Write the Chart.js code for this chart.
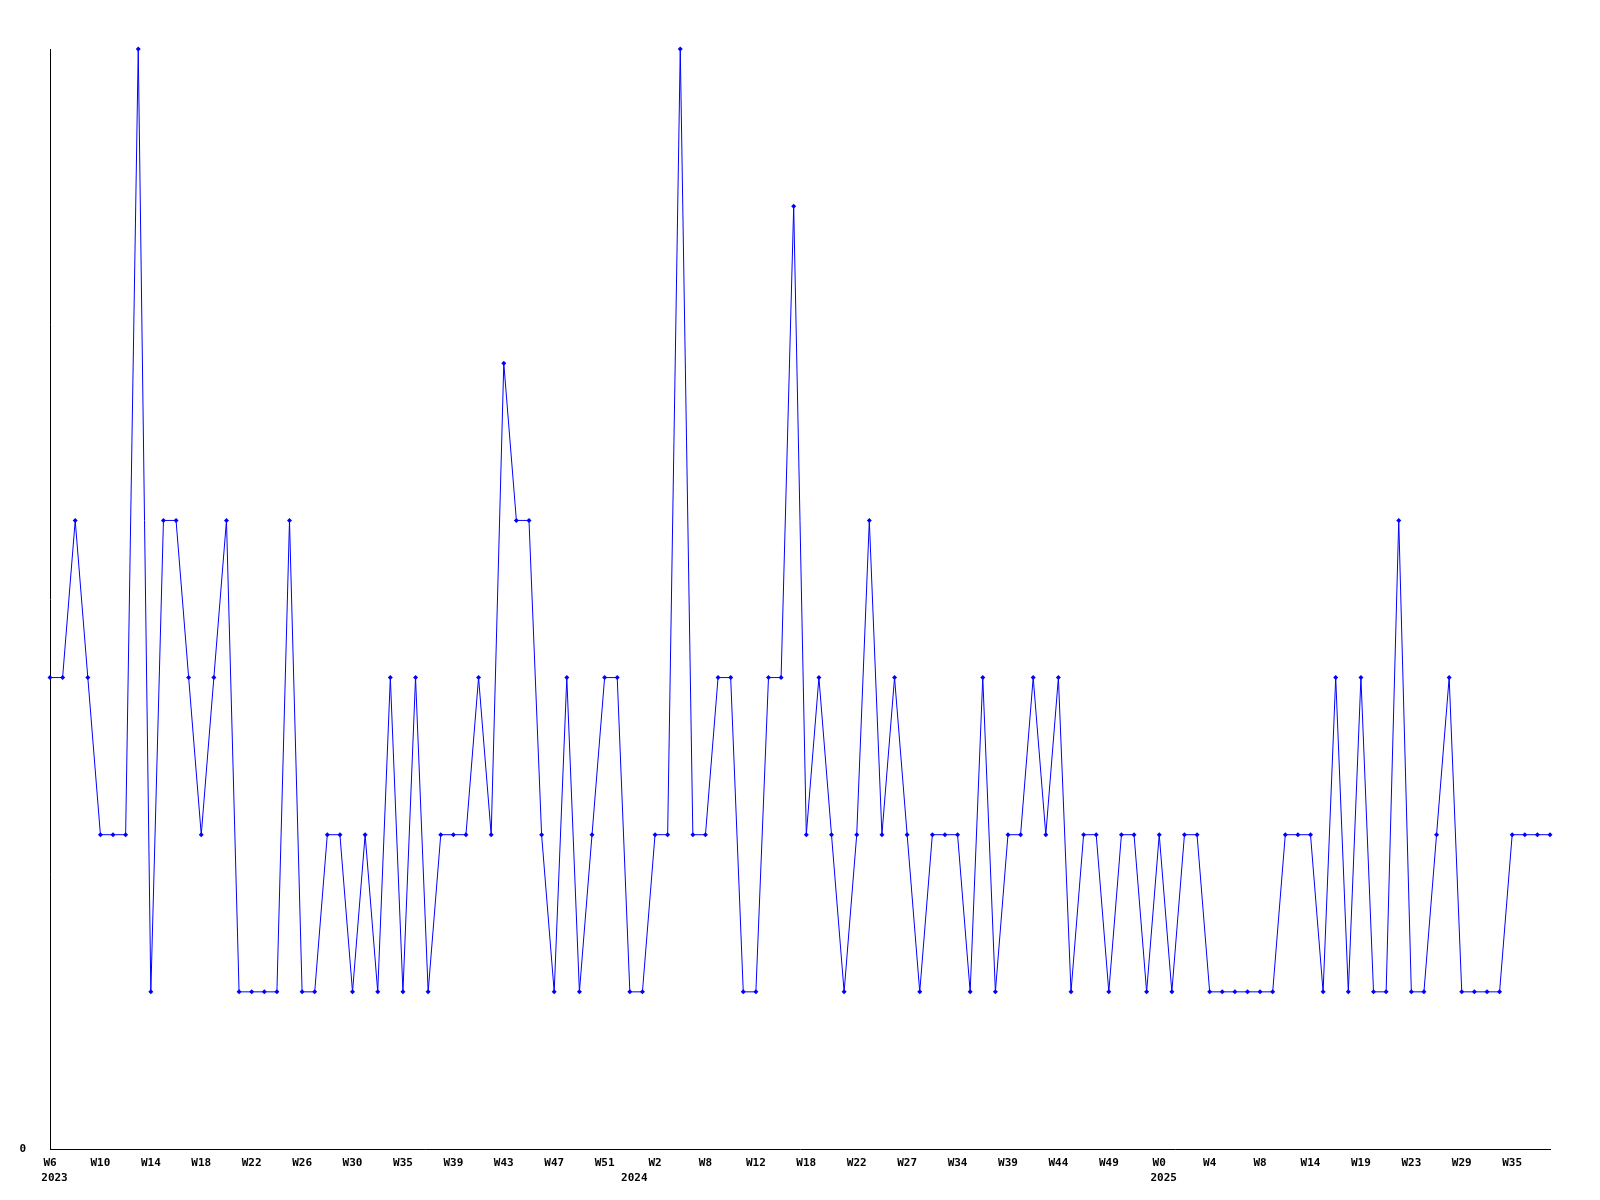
<!DOCTYPE html>
<html>
<head>
<meta charset="utf-8">
<script src="https://cdn.jsdelivr.net/npm/chart.js@4/dist/chart.umd.min.js"></script>
<style>
  body { margin: 0; background: #fff; }
  canvas { display: block; }
</style>
</head>
<body>
<canvas id="grafico" width="1600" height="1200"></canvas>
<script>
// semanas (eje x), solo cada 4a se muestra
const semanas = [
  'W6','W7','W8','W9','W10','W11','W12','W13','W14','W15','W16','W17','W18','W19','W20','W21','W22','W23','W24','W25',
  'W26','W27','W28','W29','W30','W31','W33','W34','W35','W36','W37','W38','W39','W40','W41','W42','W43','W44','W45','W46',
  'W47','W48','W49','W50','W51','W52','W0','W1',
  'W2','W3','W4','W6','W8','W9','W10','W11','W12','W13','W15','W16','W18','W19','W20','W21','W22','W23','W24','W26',
  'W27','W28','W30','W32','W34','W35','W36','W38','W39','W40','W41','W43','W44','W45','W46','W48','W49','W50','W51','W52',
  'W0','W1','W2','W3','W4','W5','W6','W7','W8','W9','W11','W12','W14','W15','W17','W18','W19','W20','W21','W22',
  'W23','W24','W26','W28','W29','W30','W32','W33','W35','W36','W37','W38'
];

// valores por semana
const valores = [
  3,3,4,3,2,2,2,7,1,4,4,3,2,3,4,1,1,1,1,4,
  1,1,2,2,1,2,1,3,1,3,1,2,2,2,3,2,5,4,4,2,
  1,3,1,2,3,3,1,1,2,2,7,2,2,3,3,1,1,3,3,6,
  2,3,2,1,2,4,2,3,2,1,2,2,2,1,3,1,2,2,3,2,
  3,1,2,2,1,2,2,1,2,1,2,2,1,1,1,1,1,1,2,2,
  2,1,3,1,3,1,1,4,1,1,2,3,1,1,1,1,2,2,2,2
];

// años: indice de la semana donde empieza cada uno
const anios = ['2023', '2024', '2025'];
const anioIndice = [0, 46, 88];

const fuente = { family: "'DejaVu Sans Mono', monospace", size: 11, weight: 'bold', lineHeight: 1.45 };

// dibuja los años debajo de las semanas
const pluginAnios = {
  id: 'anios',
  afterDraw(chart) {
    const ctx = chart.ctx;
    const x = chart.scales.x;
    ctx.save();
    ctx.font = 'bold 11px "DejaVu Sans Mono", monospace';
    ctx.fillStyle = '#000';
    ctx.textAlign = 'center';
    ctx.textBaseline = 'middle';
    anios.forEach((a, k) => {
      ctx.fillText(a, x.getPixelForValue(anioIndice[k]) + 4.5, x.top + 29);
    });
    ctx.restore();
  }
};

const ctx = document.getElementById('grafico').getContext('2d');

const grafico = new Chart(ctx, {
  type: 'line',
  data: {
    labels: semanas,
    datasets: [{
      data: valores,
      borderColor: '#0000ff',
      backgroundColor: '#0000ff',
      borderWidth: 1,
      tension: 0,
      pointStyle: 'rectRot',
      pointRadius: 2.5,
      pointBorderWidth: 0,
      fill: false,
      clip: false
    }]
  },
  options: {
    responsive: false,
    animation: false,
    layout: { padding: { top: 49, right: 50, bottom: 0, left: 0 } },
    plugins: {
      legend: { display: false },
      tooltip: { enabled: false }
    },
    scales: {
      x: {
        grid: { display: false, drawTicks: false },
        border: { display: true, color: '#000', width: 1 },
        afterFit: s => { s.height = 51; },
        ticks: {
          autoSkip: false,
          maxRotation: 0,
          padding: 6,
          color: '#000',
          font: fuente,
          callback: function(v, i) {
            return i % 4 === 0 ? semanas[i] : null;
          }
        }
      },
      y: {
        min: 0,
        max: 7,
        grid: { display: false, drawTicks: false },
        border: { display: true, color: '#000', width: 1 },
        afterFit: s => { s.width = 50; },
        ticks: {
          stepSize: 1,
          padding: 24,
          color: '#000',
          font: fuente,
          callback: v => v === 0 ? '0' : null
        }
      }
    }
  },
  plugins: [pluginAnios]
});
</script>
</body>
</html>
